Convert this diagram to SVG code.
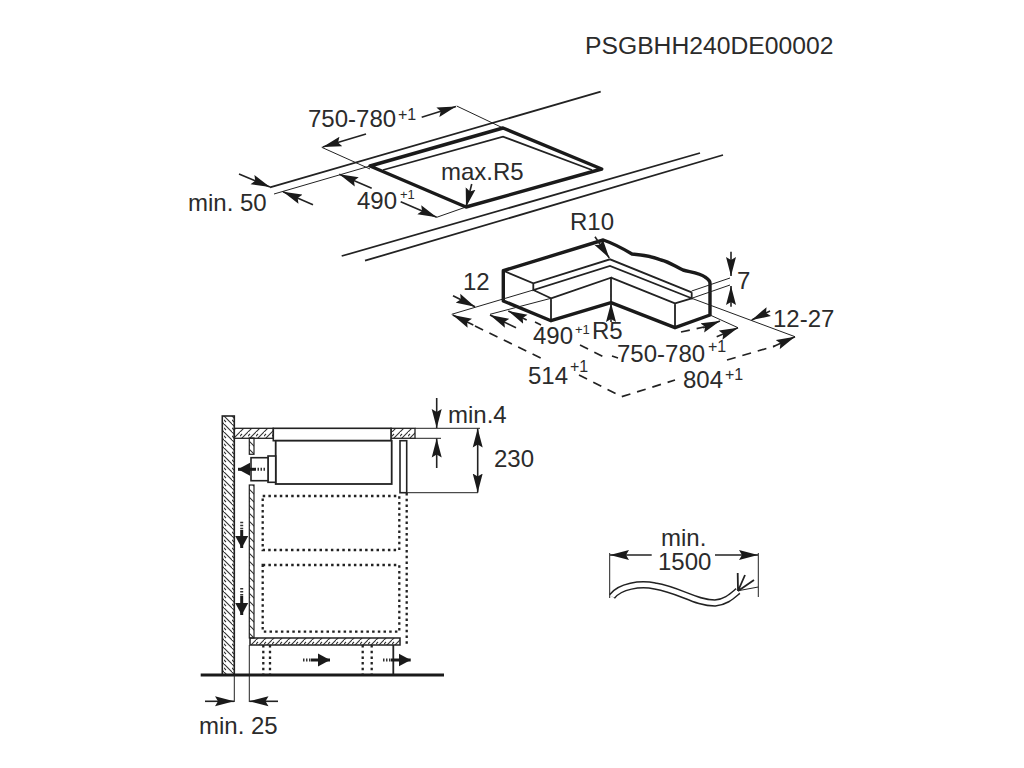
<svg xmlns="http://www.w3.org/2000/svg" width="1024" height="768" viewBox="0 0 1024 768">
<style>
text{font-family:"Liberation Sans",Arial,sans-serif;font-size:24px;fill:#2b2b2b}
text.s{font-size:16px}
text.xs{font-size:13px}
.t{fill:none;stroke:#222;stroke-width:1}
.m{fill:none;stroke:#222;stroke-width:1.8}
.k{fill:none;stroke:#1a1a1a;stroke-width:3.4;stroke-linejoin:round}
.a{fill:none;stroke:#222;stroke-width:1.6;marker-end:url(#ah)}
.d{fill:none;stroke:#222;stroke-width:1.7;stroke-dasharray:9 7}
.o{fill:none;stroke:#222;stroke-width:2.3;stroke-dasharray:2.5 3.2}
.w{fill:#fff;stroke:#222;stroke-width:1.6}
.f{fill:none;stroke:#1a1a1a;stroke-width:3;marker-end:url(#fh)}
.fd{fill:none;stroke:#333;stroke-width:3;stroke-dasharray:1.5 1.5}
</style>
<defs>
<marker id="ah" markerUnits="userSpaceOnUse" markerWidth="20" markerHeight="11" refX="19" refY="5.500" orient="auto"><path d="M0 .5L19 5.500L0 10.500L3 5.500Z" fill="#1a1a1a"/></marker>
<marker id="fh" markerUnits="userSpaceOnUse" markerWidth="13" markerHeight="14" refX="12" refY="7" orient="auto"><path d="M0 .5L12 7L0 13.500Z" fill="#1a1a1a"/></marker>
<pattern id="hb" patternUnits="userSpaceOnUse" width="8" height="8"><path d="M-2 2L2 6M0 0L8 8M6 -2L10 2" stroke="#333" stroke-width="1.1"/></pattern>
<pattern id="hf" patternUnits="userSpaceOnUse" width="8" height="8"><path d="M-2 6L2 2M0 8L8 0M6 10L10 6" stroke="#333" stroke-width="1.1"/></pattern>
</defs>

<g id="code"><text x="585" y="54" style="font-size:24.7px">PSGBHH240DE00002</text></g>

<g id="cutout-view">
<path class="m" d="M270 187.300L600.700 91.700M341.700 256L700 153M365 260.700L723 155"/>
<path class="t" d="M274 194L370 166M456.700 106L503 128M321.700 147.300L370 169M436.700 217.300L466 207"/>
<path class="k" d="M370 166L503 128L601.700 169L466 207Z"/>
<path class="m" d="M383 170L503 136.700L592 170"/>
<path class="a" d="M421.700 117.300L456 106.500"/>
<path class="a" d="M366 134L322.700 147"/>
<path class="a" d="M239 174L270 187"/>
<path class="a" d="M313 204.700L283 191.700"/>
<path class="a" d="M371.700 188.300L339.300 174.300"/>
<path class="a" d="M400.700 201.700L436.700 217.300"/>
<path class="a" d="M471.700 184L466 207"/>
<text x="308" y="127">750-780</text><text class="s" x="398" y="120">+1</text>
<text x="188" y="211">min. 50</text>
<text x="357" y="209">490</text><text class="xs" x="400" y="199">+1</text>
<text x="441" y="180">max.R5</text>
</g>

<g id="frame-view">
<path class="m" d="M503.300 270.700L533.300 283.300L610 259.300L691.700 292.300M533.300 283.300V290L610 266L691.700 298.300V292.300M533.300 290L551 298.300V320.700M551 298.300L611 277.700V302.700M611 277.700L675 303.300V327.700M675 303.300L691.700 298.300"/>
<path class="k" d="M503.300 270.700L603.300 240C612 243 622 248 632 254C644 255 652 256 661 260C670 262 676 267 683 270C690 272 700 273 705 277C708 279 710 281 710 283V315L675 327.700L611 302.700L551 320.700L503.300 301Z"/>
<path class="t" d="M451.700 314.300L533.300 290M490 314.300L551 298.300M691.700 291L730 278M691.700 298.300L730 285M691.700 298.300L795 336.700M710 315L738 327.700"/>
<path class="d" d="M475 326L547 361M579 375L621.700 396.700L675 380M727 360L775 346M535 322L541 325M580 345L606 358M612 356L618 358M681 332L704 327"/>
<path class="a" d="M453 295.700L475 306.700"/>
<path class="a" d="M473.300 325L452.700 315"/>
<path class="a" d="M516 327.700L490 315"/>
<path class="a" d="M526.700 320L508.300 311"/>
<path class="a" d="M731 251.700V276"/>
<path class="a" d="M731 306.700V286"/>
<path class="a" d="M770 311L751.700 320"/>
<path class="a" d="M703 327.700L720 321"/>
<path class="a" d="M716.700 336.700L738 327.700"/>
<path class="a" d="M773 346.700L795 336.700"/>
<path class="a" d="M611 322V303"/>
<path class="a" d="M595 236.700L609.300 258"/>
<text x="570" y="230">R10</text>
<text x="463" y="290">12</text>
<text x="737" y="289">7</text>
<text x="773" y="327">12-27</text>
<text x="533" y="344">490</text><text class="xs" x="575" y="334">+1</text>
<text x="592" y="339">R5</text>
<text x="617" y="362">750-780</text><text class="s" x="708" y="352">+1</text>
<text x="528" y="384">514</text><text class="s" x="570" y="372">+1</text>
<text x="683" y="388">804</text><text class="s" x="725" y="380">+1</text>
</g>

<g id="section-view">
<rect x="222.300" y="416" width="12" height="259" fill="url(#hb)" stroke="#222" stroke-width="1.6"/>
<rect x="234.300" y="428.300" width="39" height="10" fill="url(#hf)" stroke="#222" stroke-width="1.3"/>
<rect x="391" y="428.300" width="24" height="10" fill="url(#hf)" stroke="#222" stroke-width="1.3"/>
<rect x="273.300" y="428.300" width="117.700" height="12.400" fill="#fff" stroke="#222" stroke-width="1.6"/>
<rect x="275.700" y="440.700" width="116" height="43.300" fill="#fff" stroke="#222" stroke-width="1.8"/>
<rect x="268" y="456" width="7.700" height="26.300" class="w"/>
<rect x="251" y="457.700" width="17" height="23" class="w"/>
<rect x="249.300" y="438" width="4.700" height="16.300" fill="url(#hb)" stroke="#222" stroke-width="1.2"/>
<rect x="249.300" y="485" width="4.700" height="153" fill="url(#hb)" stroke="#222" stroke-width="1.2"/>
<rect x="400" y="440.700" width="6.700" height="52" fill="#fff" stroke="#222" stroke-width="1.6"/>
<path class="t" d="M415 428.300H480M415 438.300H441M406.700 492.700H478"/>
<path class="o" d="M262.700 496H399.300V550H262.700ZM262.700 565H399.300V631.700H262.700ZM406.700 493V645"/>
<rect x="250" y="638" width="150" height="7" fill="url(#hf)" stroke="#222" stroke-width="1.5"/>
<path class="o" d="M263.300 645V675M270 645V675M362.700 645V675M371.700 645V675"/>
<path class="m" d="M393.300 645V675"/>
<path d="M200.700 675H444" stroke="#1a1a1a" stroke-width="3.200" fill="none"/>
<path class="t" d="M234.300 675V702M249.300 645V702"/>
<path class="a" d="M205 701.300H234"/>
<path class="a" d="M278 701.300H249.500"/>
<path class="a" d="M436.700 398V428"/>
<path class="a" d="M436.700 468V438.500"/>
<path class="a" d="M477.700 460V428.500"/>
<path class="a" d="M477.700 460V492.500"/>
<path class="fd" d="M265 469.300H256"/><path class="f" d="M256 469.300H238"/>
<path class="fd" d="M241.700 521.700V530"/><path class="f" d="M241.700 530V548"/>
<path class="fd" d="M241.700 588V596"/><path class="f" d="M241.700 596V615"/>
<path class="fd" d="M303 660H311"/><path class="f" d="M311 660H330"/>
<path class="fd" d="M383 660H391"/><path class="f" d="M391 660H410.700"/>
<text x="448" y="423">min.4</text>
<text x="494" y="467">230</text>
<text x="199" y="734">min. 25</text>
</g>

<g id="cable-view">
<path class="t" d="M609.700 553V598M758.300 553V597M738.300 590.700L758.300 587"/>
<path class="a" d="M651.700 555H610"/>
<path class="a" d="M715 555H758"/>
<path d="M612 596.500C620 586 640 583 655 586C680 590 695 603 715 603C726 602 732 596 738 591" fill="none" stroke="#222" stroke-width="7.500"/>
<path d="M612 596.500C620 586 640 583 655 586C680 590 695 603 715 603C726 602 732 596 738 591" fill="none" stroke="#fff" stroke-width="4.500"/>
<path class="m" d="M738 591L737.700 573M738 591L745 575M738 591L754 580"/>
<text x="661" y="546">min.</text>
<text x="658" y="570">1500</text>
</g>
</svg>
